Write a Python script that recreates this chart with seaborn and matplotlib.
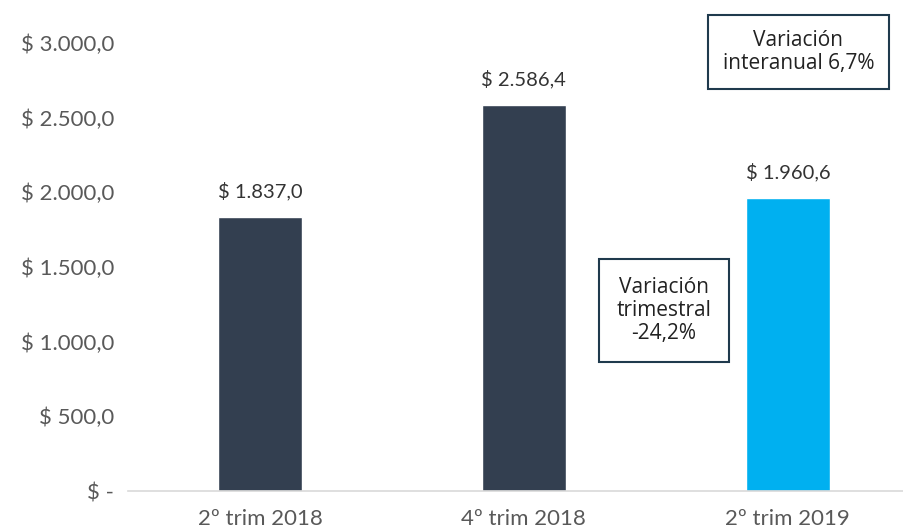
import matplotlib
matplotlib.use("Agg")
import matplotlib.pyplot as plt
import seaborn as sns
import pandas as pd

categories = ["2º trim 2018", "4º trim 2018", "2º trim 2019"]
values = [1837.0, 2586.4, 1960.6]
value_labels = ["$ 1.837,0", "$ 2.586,4", "$ 1.960,6"]
bar_colors = ["#333F50", "#333F50", "#00B0F0"]
yticks = [0, 500, 1000, 1500, 2000, 2500, 3000]
ytick_labels = ["$ -", "$ 500,0", "$ 1.000,0", "$ 1.500,0", "$ 2.000,0", "$ 2.500,0", "$ 3.000,0"]

sns.set_theme(style="white")
plt.rcParams["font.family"] = ["Lato", "DejaVu Sans"]

df = pd.DataFrame({"cat": categories, "val": values})

fig = plt.figure(figsize=(9.04, 5.32), dpi=100)
ax = fig.add_axes([128/904, 41/532, 1 - 128/904, 491/532])
sns.barplot(data=df, x="cat", y="val", hue="cat", palette=bar_colors,
            width=0.32, legend=False, ax=ax, saturation=1)

ax.set_ylim(0, 3288)
ax.set_xlim(-0.5, 2.44)
ax.set_yticks(yticks)
ax.set_yticklabels(ytick_labels, fontsize=16, color="#595959")
ax.tick_params(axis="x", labelsize=16, labelcolor="#595959", length=0, pad=13)
ax.tick_params(axis="y", length=0, pad=10)
ax.set_xlabel("")
ax.set_ylabel("")
for s in ["top", "right", "left"]:
    ax.spines[s].set_visible(False)
ax.spines["bottom"].set_color("#D9D9D9")
ax.spines["bottom"].set_linewidth(1.2)

for i, (v, lab) in enumerate(zip(values, value_labels)):
    ax.text(i, v + 110, lab, ha="center", va="bottom", fontsize=14.5, color="#333333")

ax.text(1.53, 1209, "Variación\ntrimestral\n-24,2%", ha="center", va="center",
        fontsize=15, color="#222222", family=["Open Sans", "DejaVu Sans"],
        linespacing=1.12,
        bbox=dict(boxstyle="square,pad=0.85", facecolor="white",
                  edgecolor="#1F3A4D", linewidth=1.5))
ax.text(2.04, 2937, "Variación\ninteranual 6,7%", ha="center", va="center",
        fontsize=15, color="#222222", family=["Open Sans", "DejaVu Sans"],
        linespacing=1.12,
        bbox=dict(boxstyle="square,pad=0.72", facecolor="white",
                  edgecolor="#1F3A4D", linewidth=1.5))

fig.savefig("out.png", dpi=100)
